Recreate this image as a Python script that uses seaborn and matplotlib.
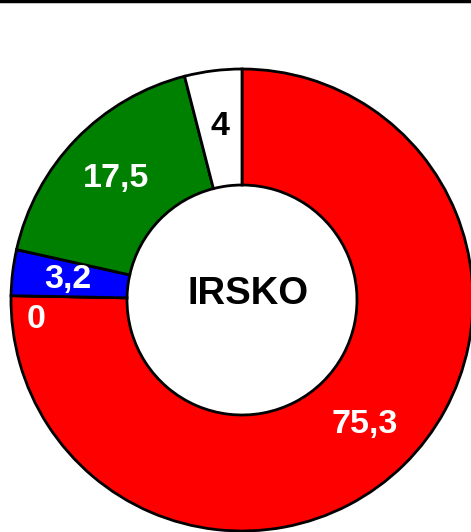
import numpy as np
import matplotlib
matplotlib.use('Agg')
import matplotlib.pyplot as plt
import seaborn as sns

# podaci (IRSKO)
values = [75.3, 0, 3.2, 17.5, 4]
labels = ['75,3', '0', '3,2', '17,5', '4']
colors = ['#FF0000', '#FF0000', '#0000FF', '#008000', '#FFFFFF']
label_colors = ['white', 'white', 'white', 'white', 'black']
title = 'IRSKO'

sns.set_style('white')
plt.rcParams['font.family'] = ['Liberation Sans', 'DejaVu Sans']

fig = plt.figure(figsize=(4.71, 5.32), dpi=100)
ax = fig.add_axes([0, 0, 1, 1])

cx, cy, R = 242, 232, 231
wedges, _ = ax.pie(values, colors=colors, startangle=90, counterclock=False,
                   center=(cx, cy), radius=R, normalize=True,
                   wedgeprops=dict(width=116, edgecolor='black', linewidth=2))

# pie() postavlja svoje granice, pa ih zadajemo nakon
ax.set_xlim(0, 471)
ax.set_ylim(0, 532)
ax.set_aspect('equal')
ax.axis('off')

# oznake vrijednosti
for w, lab, lc, v in zip(wedges, labels, label_colors, values):
    mid = np.deg2rad((w.theta1 + w.theta2) / 2)
    r = 175
    if v == 0:
        mid = np.deg2rad(w.theta1 + 6.5)
        r = 207
    ax.text(cx + r * np.cos(mid), cy + r * np.sin(mid), lab, color=lc,
            fontsize=24.5, fontweight='bold', ha='center', va='center')

ax.text(cx + 6, cy + 6, title, fontsize=27.5, fontweight='bold',
        ha='center', va='center', color='black')

# linija na vrhu
ax.plot([0, 471], [531, 531], color='black', linewidth=2.5, clip_on=False)

fig.savefig('out.png', dpi=100)
